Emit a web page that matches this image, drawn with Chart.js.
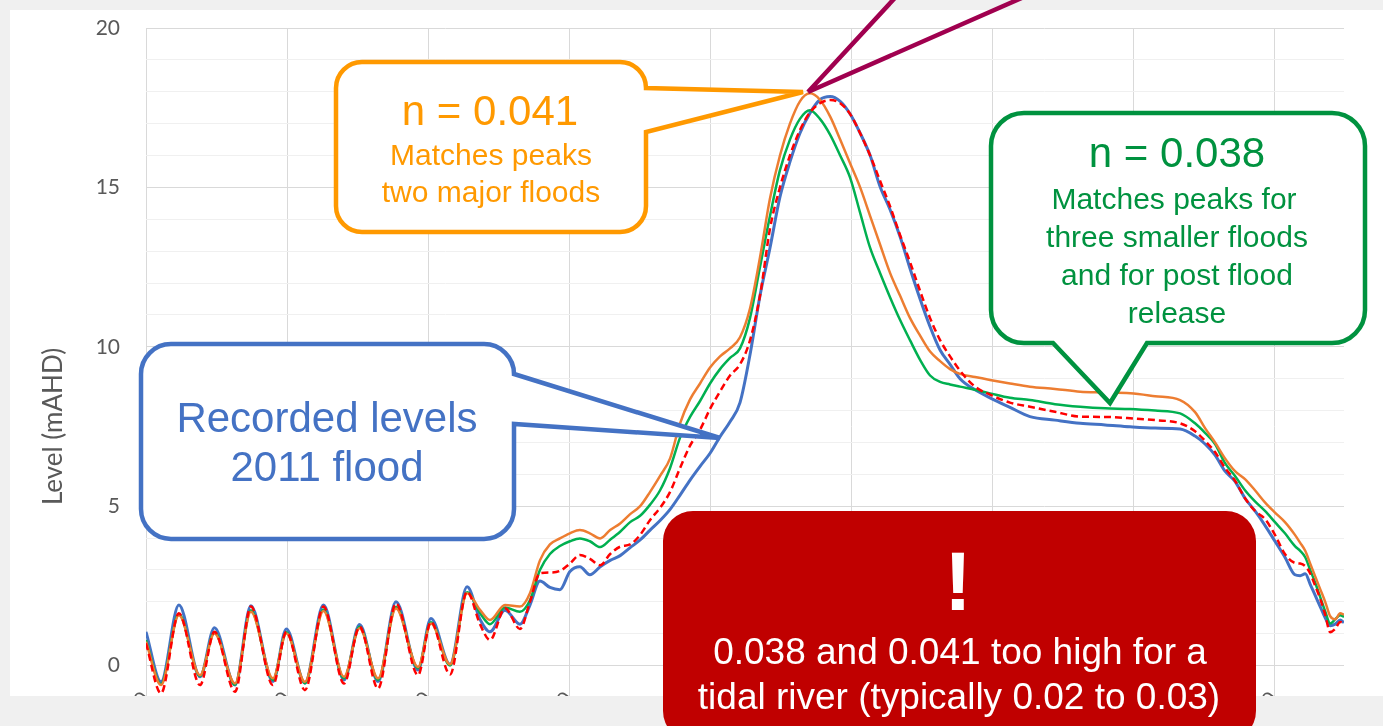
<!DOCTYPE html>
<html>
<head>
<meta charset="utf-8">
<script src="https://cdn.jsdelivr.net/npm/chart.js@4.4.1/dist/chart.umd.min.js"></script>
<style>
  html, body { margin: 0; padding: 0; background: #f0f0f0; width: 1383px; height: 726px; overflow: hidden; }
  #panel { position: absolute; left: 10px; top: 10px; width: 1373px; height: 686px; background: #fff; overflow: hidden; }
  #chart { position: absolute; left: 0; top: 0; }
  #notes { position: absolute; left: 0; top: 0; }
  .t { position: absolute; width: 800px; text-align: center; white-space: nowrap; line-height: 1.2;
       font-family: "Liberation Sans", Arial, sans-serif; }
</style>
</head>
<body>
<div id="panel"><canvas id="chart" width="1373" height="830"></canvas></div>

<svg id="notes" width="1383" height="726">
  <path d="M362,62 H620 A26,26 0 0 1 646,88 L803,92 L646,132 V206 A26,26 0 0 1 620,232 H362 A26,26 0 0 1 336,206 V88 A26,26 0 0 1 362,62 Z"
        fill="#fff" stroke="#FF9900" stroke-width="4.5"/>
  <path d="M171,344 H484 A30,30 0 0 1 514,374 L720,438 L514,424 V509 A30,30 0 0 1 484,539 H171 A30,30 0 0 1 141,509 V374 A30,30 0 0 1 171,344 Z"
        fill="#fff" stroke="#4472C4" stroke-width="4.5"/>
  <path d="M1024,113 H1332 A33,33 0 0 1 1365,146 V310 A33,33 0 0 1 1332,343 H1147 L1110,403 L1053,343 H1024 A33,33 0 0 1 991,310 V146 A33,33 0 0 1 1024,113 Z"
        fill="#fff" stroke="#00923F" stroke-width="4.5"/>
  <rect x="663" y="511" width="593" height="230" rx="30" fill="#C00000"/>
  <path d="M808,92 L897.6,-5 M808,92 L1028.4,-5" stroke="#A0004F" stroke-width="4.5" fill="none"/>
</svg>

<div class="t" style="left:90px;top:86px;font-size:42px;color:#FF9900">n = 0.041</div>
<div class="t" style="left:91px;top:137px;font-size:30px;color:#FF9900">Matches peaks</div>
<div class="t" style="left:91px;top:174px;font-size:30px;color:#FF9900">two major floods</div>

<div class="t" style="left:-73px;top:393px;font-size:42px;color:#4472C4">Recorded levels</div>
<div class="t" style="left:-73px;top:442px;font-size:42px;color:#4472C4">2011 flood</div>

<div class="t" style="left:777px;top:128px;font-size:42px;color:#00923F">n = 0.038</div>
<div class="t" style="left:774px;top:181px;font-size:30px;color:#00923F">Matches peaks for</div>
<div class="t" style="left:777px;top:219px;font-size:30px;color:#00923F">three smaller floods</div>
<div class="t" style="left:777px;top:257px;font-size:30px;color:#00923F">and for post flood</div>
<div class="t" style="left:777px;top:295px;font-size:30px;color:#00923F">release</div>

<div class="t" style="left:558px;top:531px;font-size:84px;font-weight:bold;color:#fff">!</div>
<div class="t" style="left:560px;top:630px;font-size:37px;color:#fff">0.038 and 0.041 too high for a</div>
<div class="t" style="left:559px;top:675px;font-size:37px;color:#fff">tidal river (typically 0.02 to 0.03)</div>

<script>
// time since start of record, hours (x)
const hours = [
  0, 5.1, 11.2, 18.4, 23.3, 30.3, 35.7, 43.2, 47.8, 54.1, 60.4, 67.4, 72.7, 79.0, 85.1, 92.6, 97.0, 103.5, 109.3, 113.7, 117.1,
  122.2, 127.3, 130.7, 134.1, 137.5, 140.9, 144.3, 147.7, 151.1, 154.6, 158.0, 161.4, 164.8, 168.2, 171.6, 175.0, 178.4, 181.8,
  185.2, 188.6, 192.0, 195.4, 198.8, 202.2, 205.6, 209.0, 212.4, 215.8, 219.2, 222.6, 226.0, 229.4, 232.9, 236.3, 239.7, 243.1,
  246.5, 249.9, 253.3, 256.7, 260.1, 263.5, 266.9, 270.3, 273.7, 277.1,
  282.2, 287.3, 294.1, 300.9, 309.4, 318.0, 326.5, 335.0, 343.5, 352.0,
  357.1, 360.5, 363.9, 367.3, 370.7, 374.1, 377.5, 380.9, 384.3, 387.7, 391.1,
  392.9, 394.6, 396.3, 398.0, 399.7, 401.4, 403.1, 404.8, 406.5, 407.8
];

// recorded levels, 2011 flood (mAHD)
const recorded = [
  1.06, -0.51, 1.9, -0.35, 1.19, -0.61, 1.88, -0.5, 1.15, -0.55, 1.9, -0.45, 1.29, -0.5, 2.0, -0.14, 1.48, 0.04, 2.47, 1.45, 1.06,
  1.74, 1.3, 1.9, 2.65, 2.45, 2.38, 2.95, 3.1, 2.85, 3.1, 3.3, 3.45, 3.7, 3.94, 4.25, 4.55, 4.9, 5.35,
  5.82, 6.25, 6.66, 7.18, 7.65, 8.25, 9.75, 11.6, 13.1, 14.7, 15.8, 16.7, 17.33, 17.75, 17.85, 17.7, 17.3, 16.7,
  16.0, 15.02, 14.3, 13.45, 12.45, 11.5, 10.63, 9.9, 9.45, 9.0,
  8.65, 8.4, 8.1, 7.81, 7.7, 7.6, 7.55, 7.49, 7.45, 7.42,
  7.2, 6.95, 6.6, 6.1, 5.78, 5.25, 4.85, 4.4, 3.9, 3.4, 2.85,
  2.82, 2.88, 2.55, 2.2, 1.85, 1.5, 1.25, 1.3, 1.43, 1.35
];

// model, n = 0.041
const n041 = [
  0.75, -0.61, 1.58, -0.3, 1.01, -0.56, 1.69, -0.4, 1.01, -0.51, 1.71, -0.35, 1.17, -0.4, 1.79, -0.04, 1.32, 0.04, 2.27, 1.75, 1.43,
  1.9, 1.85, 2.27, 3.3, 3.8, 3.99, 4.15, 4.25, 4.15, 3.99, 4.25, 4.46, 4.75, 5.0, 5.45, 5.95, 6.5, 7.6,
  8.35, 8.85, 9.35, 9.7, 9.95, 10.3, 11.2, 12.8, 14.65, 16.0, 17.0, 17.7, 17.95, 17.75, 17.22, 16.5, 15.75, 15.0,
  14.1, 13.2, 12.31, 11.6, 10.9, 10.35, 9.85, 9.55, 9.3, 9.15,
  9.05, 8.96, 8.85, 8.75, 8.68, 8.59, 8.57, 8.54, 8.45, 8.33,
  7.95, 7.45, 7.0, 6.5, 6.1, 5.85, 5.5, 5.12, 4.8, 4.5, 4.1,
  3.85, 3.6, 3.2, 2.8, 2.4, 2.0, 1.55, 1.45, 1.64, 1.6
];

// model, n = 0.038
const n038 = [
  0.8, -0.58, 1.62, -0.33, 1.05, -0.6, 1.74, -0.45, 1.05, -0.55, 1.76, -0.4, 1.22, -0.45, 1.84, -0.08, 1.36, 0.0, 2.3, 1.65, 1.3,
  1.82, 1.69, 2.05, 3.0, 3.5, 3.75, 3.9, 3.99, 3.9, 3.72, 3.95, 4.2, 4.5, 4.7, 5.05, 5.5, 6.2, 7.15,
  7.8, 8.3, 8.85, 9.3, 9.65, 9.95, 10.9, 12.5, 14.1, 15.54, 16.5, 17.15, 17.42, 17.15, 16.65, 16.0, 15.3, 14.2,
  13.1, 12.31, 11.55, 10.84, 10.2, 9.59, 9.1, 8.9, 8.82, 8.75,
  8.65, 8.54, 8.4, 8.33, 8.2, 8.12, 8.07, 8.05, 8.0, 7.91,
  7.6, 7.3, 6.95, 6.35, 5.95, 5.5, 5.15, 4.85, 4.5, 4.15, 3.75,
  3.6, 3.4, 3.0, 2.6, 2.15, 1.7, 1.32, 1.45, 1.58, 1.53
];

// model run shown dashed
const nDashed = [
  0.7, -0.87, 1.64, -0.61, 1.06, -0.82, 1.85, -0.61, 1.06, -0.77, 1.85, -0.56, 1.22, -0.72, 1.95, -0.3, 1.37, -0.28, 2.32, 1.3, 0.8,
  1.8, 1.15, 2.0, 2.9, 2.92, 2.97, 3.2, 3.47, 3.35, 3.15, 3.5, 3.73, 3.8, 4.1, 4.57, 4.95, 5.45, 6.2,
  6.9, 7.4, 8.05, 8.6, 9.1, 9.45, 10.2, 11.6, 13.7, 15.0, 16.0, 16.8, 17.35, 17.64, 17.74, 17.64, 17.3, 16.7,
  16.0, 15.2, 14.4, 13.5, 12.65, 11.75, 10.9, 10.21, 9.7, 9.25,
  8.75, 8.5, 8.25, 8.12, 7.96, 7.81, 7.8, 7.76, 7.7, 7.6,
  7.35, 7.05, 6.7, 6.2, 5.8, 5.25, 4.85, 4.6, 4.1, 3.5, 3.22,
  3.2, 3.12, 2.89, 2.5, 2.1, 1.6, 1.05, 1.15, 1.37, 1.32
];

// x tick labels, one every 48 h
const dateLabels = [
  '3/01/2011 0:00', '5/01/2011 0:00', '7/01/2011 0:00', '9/01/2011 0:00', '11/01/2011 0:00',
  '13/01/2011 0:00', '15/01/2011 0:00', '17/01/2011 0:00', '19/01/2011 0:00'
];

const axisFont = { family: 'Lato', size: 21 };

function series(values) {
  return hours.map((h, i) => ({ x: h, y: values[i] }));
}

const chart = new Chart(document.getElementById('chart'), {
  type: 'line',
  data: {
    datasets: [
      { label: 'Recorded levels 2011 flood', data: series(recorded), borderColor: '#4472C4', borderWidth: 3, order: 3 },
      { label: 'n = 0.038', data: series(n038), borderColor: '#00B050', borderWidth: 2.5, order: 2 },
      { label: 'n = 0.041', data: series(n041), borderColor: '#ED7D31', borderWidth: 2.5, order: 1 },
      { label: 'Model (dashed)', data: series(nDashed), borderColor: '#FF0000', borderWidth: 2.5, borderDash: [7, 4], order: 0 }
    ]
  },
  options: {
    responsive: false,
    animation: false,
    layout: { padding: { left: 24, top: 18, right: 39, bottom: 15 } },
    elements: { point: { radius: 0 }, line: { cubicInterpolationMode: 'monotone', fill: false } },
    plugins: { legend: { display: false }, tooltip: { enabled: false } },
    scales: {
      x: {
        type: 'linear',
        min: 0,
        max: 407.8,
        position: { y: 0 },
        afterFit: function(scale) { scale.paddingLeft = 0; scale.paddingRight = 0; },
        border: { display: false },
        grid: { drawTicks: false, color: '#d9d9d9' },
        ticks: {
          stepSize: 48,
          includeBounds: false,
          autoSkip: false,
          minRotation: 45,
          maxRotation: 45,
          padding: 21,
          color: '#595959',
          font: axisFont,
          callback: function(value) {
            return dateLabels[Math.round(value / 48)];
          }
        }
      },
      y: {
        min: -5,
        max: 20,
        afterFit: function(scale) {
          scale.width = 112;
          scale.paddingTop = 0;
          scale.paddingBottom = 0;
        },
        border: { display: false },
        grid: {
          drawTicks: false,
          color: function(ctx) { return ctx.tick.value % 5 === 0 ? '#d9d9d9' : '#f0f0f0'; }
        },
        ticks: {
          stepSize: 1,
          autoSkip: false,
          padding: 26,
          color: '#595959',
          font: axisFont,
          callback: function(value) {
            return (value >= 0 && value % 5 === 0) ? value : '';
          }
        },
        title: { display: true, text: 'Level (mAHD)', color: '#595959', font: { family: 'Lato', size: 26 } }
      }
    }
  }
});
</script>
</body>
</html>
